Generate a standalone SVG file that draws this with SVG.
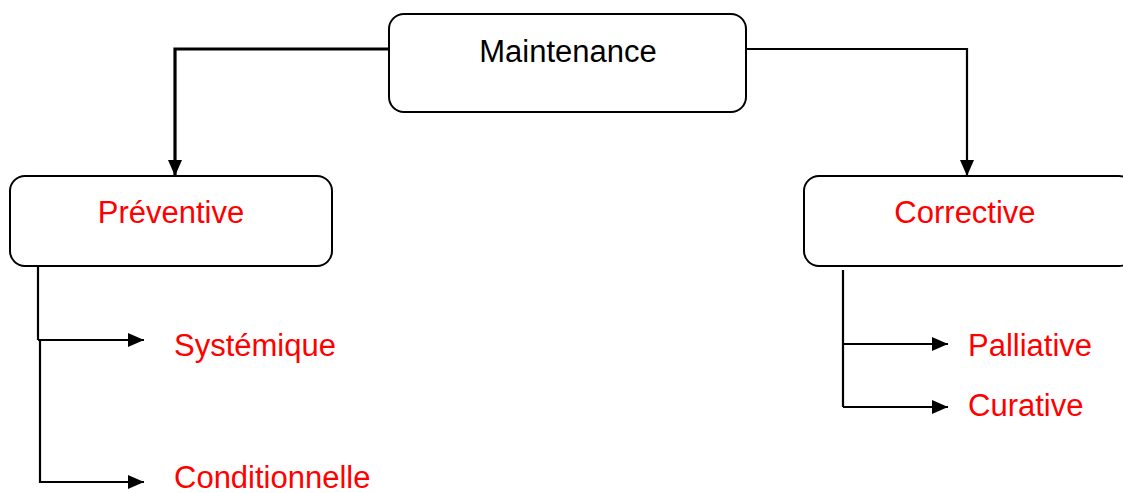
<svg xmlns="http://www.w3.org/2000/svg" width="1123" height="493" viewBox="0 0 1123 493">
<style>
.box{fill:#fff;stroke:#000;stroke-width:2}
.t{font-family:"Liberation Sans",Arial,sans-serif;font-size:31px}
.red{fill:#ff0000}
.blk{fill:#000}
.ln{fill:none;stroke:#000;stroke-width:2.2}
</style>
<defs>
<marker id="ah" markerUnits="userSpaceOnUse" markerWidth="17" markerHeight="16" refX="16" refY="8" orient="auto">
<path d="M0,1 L16,8 L0,15 Z" fill="#000"/>
</marker>
</defs>
<g id="connectors">
<path class="ln" d="M389,49 H175 V176" style="stroke-width:3.2" marker-end="url(#ah)"/>
<path class="ln" d="M746,49 H967 V176" marker-end="url(#ah)"/>
<path class="ln" d="M38,266 V340"/>
<path class="ln" d="M38,340 H144" marker-end="url(#ah)"/>
<path class="ln" d="M40,340 V482 H144" marker-end="url(#ah)"/>
<path class="ln" d="M843,270 V407"/>
<path class="ln" d="M843,344 H948" marker-end="url(#ah)"/>
<path class="ln" d="M843,407 H948" marker-end="url(#ah)"/>
</g>
<g id="maintenance">
<rect class="box" x="389" y="14" width="357" height="98" rx="15"/>
<text class="t blk" x="568" y="62" text-anchor="middle">Maintenance</text>
</g>
<g id="preventive">
<rect class="box" x="10" y="176" width="322" height="90" rx="15"/>
<text class="t red" x="171" y="223" text-anchor="middle">Préventive</text>
</g>
<g id="corrective">
<rect class="box" x="804" y="176" width="330" height="90" rx="15"/>
<text class="t red" x="965" y="223" text-anchor="middle">Corrective</text>
</g>
<g id="systemique"><text class="t red" x="174" y="356">Systémique</text></g>
<g id="conditionnelle"><text class="t red" x="174" y="488">Conditionnelle</text></g>
<g id="palliative"><text class="t red" x="968" y="356">Palliative</text></g>
<g id="curative"><text class="t red" x="968" y="416">Curative</text></g>
</svg>
